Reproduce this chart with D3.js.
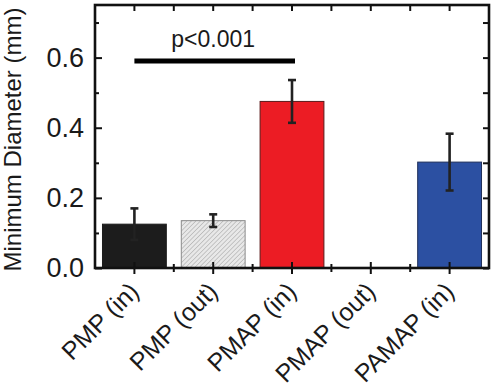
<!DOCTYPE html>
<html>
<head>
<meta charset="utf-8">
<script src="https://cdn.jsdelivr.net/npm/d3@7"></script>
<style>
  html, body { margin: 0; padding: 0; background: #fff; }
  svg { display: block; }
  text { font-family: "Liberation Sans", Arial, sans-serif; fill: #1a1a1a; }
</style>
</head>
<body>
<svg id="chart" width="496" height="389"></svg>
<script>
const categories = ["PMP (in)", "PMP (out)", "PMAP (in)", "PMAP (out)", "PAMAP (in)"];
const values = [0.125, 0.135, 0.475, 0, 0.302];
const errors = [0.045, 0.018, 0.061, 0, 0.081];
const fills = ["#1c1c1c", "url(#hatch)", "#ec1c24", "none", "#2c50a2"];
const strokes = ["#1c1c1c", "#8a8a8a", "#5a1a1a", "none", "#1f2f5a"];
const yTicks = [0.0, 0.2, 0.4, 0.6];
const yMinor = [0.1, 0.3, 0.5, 0.7];
const sigFrom = "PMP (in)", sigTo = "PMAP (in)", sigY = 0.59, sigLabel = "p<0.001";
const yLabel = "Minimum Diameter (mm)";

const svg = d3.select("#chart");
const L = 95, R = 489, T = 5, B = 268;

const defs = svg.append("defs");
const pat = defs.append("pattern").attr("id", "hatch").attr("patternUnits", "userSpaceOnUse")
  .attr("width", 3.2).attr("height", 3.2).attr("patternTransform", "rotate(45)");
pat.append("rect").attr("width", 3.2).attr("height", 3.2).attr("fill", "#e8e8e8");
pat.append("line").attr("x1", 0).attr("y1", 0).attr("x2", 0).attr("y2", 3.2)
  .attr("stroke", "#a0a0a0").attr("stroke-width", 1);

const x = d3.scaleBand().domain(categories).range([L, R]).paddingInner(0.19).paddingOuter(0.095);
const xc = d => x(d) + x.bandwidth() / 2;
const y = d3.scaleLinear().domain([0, 0.75]).range([B, T]);

// bars
svg.append("g").selectAll("rect").data(categories).join("rect")
  .attr("x", d => x(d)).attr("width", x.bandwidth())
  .attr("y", (d, i) => y(values[i])).attr("height", (d, i) => B - y(values[i]))
  .attr("fill", (d, i) => fills[i]).attr("stroke", (d, i) => strokes[i]).attr("stroke-width", 1)
  .attr("display", (d, i) => values[i] > 0 ? null : "none");

// error bars
const eg = svg.append("g").attr("stroke", "#222").attr("stroke-width", 2.6);
categories.forEach((c, i) => {
  if (!errors[i]) return;
  const cx = xc(c);
  eg.append("line").attr("x1", cx).attr("x2", cx).attr("y1", y(values[i] - errors[i])).attr("y2", y(values[i] + errors[i]));
  [values[i] - errors[i], values[i] + errors[i]].forEach(v => {
    eg.append("line").attr("x1", cx - 4).attr("x2", cx + 4).attr("y1", y(v)).attr("y2", y(v));
  });
});

// axes
const ax = svg.append("g");
const yLeft = ax.append("g").attr("transform", `translate(${L},0)`)
  .call(d3.axisLeft(y).tickValues(yTicks).tickFormat(d3.format(".1f")).tickSizeInner(-7).tickSizeOuter(0).tickPadding(11));
yLeft.select(".domain").remove();
yLeft.selectAll("text").attr("font-size", 27).attr("fill", "#1a1a1a");
yLeft.selectAll("line").attr("stroke", "#111").attr("stroke-width", 2);
const yLeftMinor = ax.append("g").attr("transform", `translate(${L},0)`)
  .call(d3.axisLeft(y).tickValues(yMinor).tickFormat("").tickSizeInner(-4).tickSizeOuter(0));
yLeftMinor.select(".domain").remove();
yLeftMinor.selectAll("line").attr("stroke", "#111").attr("stroke-width", 2);

const yRight = ax.append("g").attr("transform", `translate(${R},0)`)
  .call(d3.axisRight(y).tickValues(yTicks.concat(yMinor)).tickFormat("").tickSizeInner(-6).tickSizeOuter(0));
yRight.select(".domain").remove();
yRight.selectAll("line").attr("stroke", "#111").attr("stroke-width", 2);

// bottom axis: major ticks crossing, minor ticks between bands
const xb = ax.append("g").attr("transform", `translate(0,${B})`)
  .call(d3.axisBottom(x).tickSizeInner(6).tickSizeOuter(0).tickPadding(0));
xb.select(".domain").remove();
xb.selectAll(".tick line").attr("y1", -6).attr("stroke", "#111").attr("stroke-width", 2);
xb.selectAll(".tick text").attr("font-size", 25).attr("text-anchor", "end").attr("dy", 0)
  .attr("fill", "#1a1a1a")
  .attr("transform", "translate(6,25) rotate(-45)").attr("x", 0).attr("y", 0);
const minorX = categories.slice(1).map(c => x(c) - x.step() * x.paddingInner() / 2);
ax.append("g").selectAll("line").data(minorX).join("line")
  .attr("x1", d => d).attr("x2", d => d).attr("y1", B - 4).attr("y2", B + 4)
  .attr("stroke", "#111").attr("stroke-width", 2);
// top ticks
ax.append("g").selectAll("line").data(categories.map(xc).concat(minorX)).join("line")
  .attr("x1", d => d).attr("x2", d => d).attr("y1", T).attr("y2", T + 6)
  .attr("stroke", "#111").attr("stroke-width", 2);

// frame
svg.append("rect").attr("x", L).attr("y", T).attr("width", R - L).attr("height", B - T)
  .attr("fill", "none").attr("stroke", "#111").attr("stroke-width", 2.6);

// significance
svg.append("line").attr("x1", xc(sigFrom)).attr("x2", xc(sigTo) + 3).attr("y1", y(sigY)).attr("y2", y(sigY))
  .attr("stroke", "#000").attr("stroke-width", 5);
svg.append("text").attr("x", (xc(sigFrom) + xc(sigTo)) / 2).attr("y", y(sigY) - 14)
  .attr("text-anchor", "middle").attr("font-size", 23).text(sigLabel);

// y label
svg.append("text").attr("transform", `translate(21,${(T + B) / 2 + 3}) rotate(-90)`)
  .attr("text-anchor", "middle").attr("font-size", 24).text(yLabel);
</script>
</body>
</html>
